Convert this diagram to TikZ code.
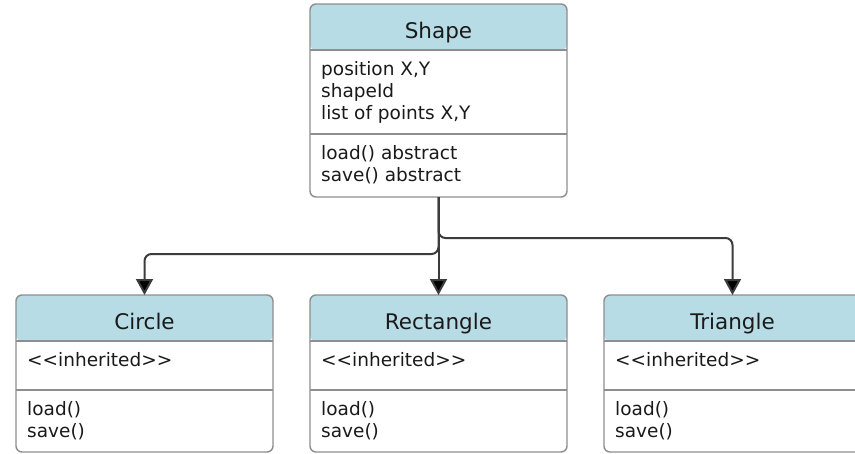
\documentclass[tikz,border=0pt]{standalone}
\usepackage{fontspec}
\setmainfont{DejaVu Sans}
\usetikzlibrary{arrows.meta}

\definecolor{hdrfill}{HTML}{B8DCE5}
\definecolor{framecol}{HTML}{8E8E8E}
\definecolor{textcol}{HTML}{1A1A1A}
\definecolor{linkcol}{HTML}{3C3C3C}

% UML class box: #1 name, #2 left x, #3 top y, #4 methods separator y,
% #5 bottom y, #6 title, #7 attributes, #8 methods
\newcommand\umlclass[8]{%
  \node[classframe, anchor=north west, minimum height={(#5-#3)*1pt}] (#1) at (#2,#3) {};
  \draw[sepline] ([yshift=-46pt]#1.north west) -- ([yshift=-46pt]#1.north east);
  \draw[sepline] ({#2},{#4}) -- ({#2+257},{#4});
  \node[titletext, anchor=base] (#1-title) at ({#2+128.5},{#3+34}) {#6};
  \node[bodytext, anchor=north west] (#1-attrs) at ({#2+11},{#3+46+11}) {#7};
  \node[bodytext, anchor=north west] (#1-ops) at ({#2+11},{#4+11}) {#8};
}

\begin{document}
\begin{tikzpicture}[x=1pt, y=-1pt,
  classframe/.style={draw=framecol, line width=1.4pt, rounded corners=6pt,
    fill=white, minimum width=257pt, inner sep=0pt, outer sep=0pt,
    path picture={\fill[hdrfill] (path picture bounding box.north west)
      rectangle ([yshift=-46pt]path picture bounding box.north east);}},
  sepline/.style={draw=framecol, line width=1.4pt},
  titletext/.style={font=\fontsize{21.5}{26}\selectfont, text=textcol, inner sep=0pt},
  bodytext/.style={font=\fontsize{18.5}{22}\selectfont, text=textcol,
    align=left, inner sep=0pt},
  link/.style={draw=linkcol, line width=2pt, rounded corners=7pt,
    -{Triangle[width=17pt, length=16pt, fill=black]}}]

\useasboundingbox (0,0) rectangle (855,453);
\clip (0,0) rectangle (855,453);

\umlclass{shape}{310}{4}{134}{197}{Shape}%
  {position X,Y\\shapeId\\list of points X,Y}%
  {load() abstract\\save() abstract}
\umlclass{circle}{16}{295}{390}{452}{Circle}%
  {<{}<inherited>{}>}{load()\\save()}
\umlclass{rectangle}{310}{295}{390}{452}{Rectangle}%
  {<{}<inherited>{}>}{load()\\save()}
\umlclass{triangle}{604}{295}{390}{452}{Triangle}%
  {<{}<inherited>{}>}{load()\\save()}

% inheritance connectors
\draw[link] (shape.south) -- (shape.south |- 0,254) -- (circle.north |- 0,254) -- (circle.north);
\draw[link] (shape.south) -- (shape.south |- 0,238) -- (triangle.north |- 0,238) -- (triangle.north);
\draw[link] (shape.south) -- (rectangle.north);
\end{tikzpicture}
\end{document}
